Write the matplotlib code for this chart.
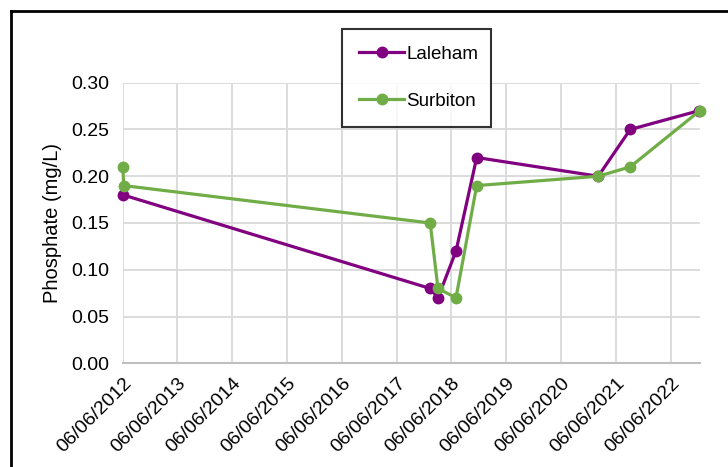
import numpy as np
import pandas as pd
import matplotlib
matplotlib.use("Agg")
import matplotlib.pyplot as plt
import matplotlib.dates as mdates
from matplotlib.lines import Line2D

plt.rcParams['font.family'] = ['Liberation Sans', 'DejaVu Sans']

# sample dates and values
laleham_dates = pd.to_datetime(["2012-06-09", "2018-01-15", "2018-03-08", "2018-07-06",
                                "2018-11-21", "2021-02-08", "2021-09-09", "2022-12-10"])
laleham_vals = [0.18, 0.08, 0.07, 0.12, 0.22, 0.20, 0.25, 0.27]

surbiton_dates = pd.to_datetime(["2012-06-06", "2012-06-13", "2018-01-15", "2018-03-08",
                                 "2018-07-06", "2018-11-21", "2021-02-08", "2021-09-09",
                                 "2022-12-16"])
surbiton_vals = [0.21, 0.19, 0.15, 0.08, 0.07, 0.19, 0.20, 0.21, 0.27]

fig = plt.figure(figsize=(7.28, 4.67), dpi=100)
ax = fig.add_axes([122.7/728, 1-363.3/467, (700-122.7)/728, (363.3-82.7)/467])

ax.plot(laleham_dates, laleham_vals, color="#800080", lw=2.3, marker="o", ms=7.5,
        label="Laleham", zorder=3, clip_on=False)
ax.plot(surbiton_dates, surbiton_vals, color="#70AD47", lw=2.3, marker="o", ms=7.5,
        label="Surbiton", zorder=3, clip_on=False)

ax.set_xlim(pd.Timestamp("2012-06-06"), pd.Timestamp("2022-12-18"))
ax.set_ylim(0, 0.30)
ax.set_yticks(np.arange(0, 0.31, 0.05))
ax.yaxis.set_major_formatter(matplotlib.ticker.FormatStrFormatter("%.2f"))
ax.xaxis.set_major_locator(mdates.YearLocator(1, month=6, day=6))
ax.xaxis.set_major_formatter(mdates.DateFormatter("%d/%m/%Y"))
for lab in ax.get_xticklabels():
    lab.set_rotation(45)
    lab.set_ha("right")
    lab.set_rotation_mode("anchor")

ax.grid(True, color="#d9d9d9", lw=1.3)
ax.set_axisbelow(True)
for s in ["top", "right", "left"]:
    ax.spines[s].set_visible(False)
ax.spines["bottom"].set_color("#bfbfbf")
ax.spines["bottom"].set_linewidth(1.5)
ax.tick_params(length=0, labelsize=14, colors="black", pad=8)
ax.tick_params(axis="y", pad=10)
ax.set_ylabel("Phosphate (mg/L)", fontsize=14.5, labelpad=6)

leg = fig.legend(loc="upper left", bbox_to_anchor=(333/728, 1-24/467, 167/728, 0.01),
                 mode="expand", fancybox=False, edgecolor="black", fontsize=13.5,
                 labelspacing=1.6, handlelength=2.4, borderpad=0.9, handletextpad=0.1)
leg.get_frame().set_linewidth(1.5)

# outer chart border (top and left visible in the crop)
fig.add_artist(Line2D([11/728, 1], [1-11/467, 1-11/467], color="black", lw=2))
fig.add_artist(Line2D([11/728, 11/728], [0, 1-11/467], color="black", lw=2))

fig.savefig("out.png", dpi=100)
